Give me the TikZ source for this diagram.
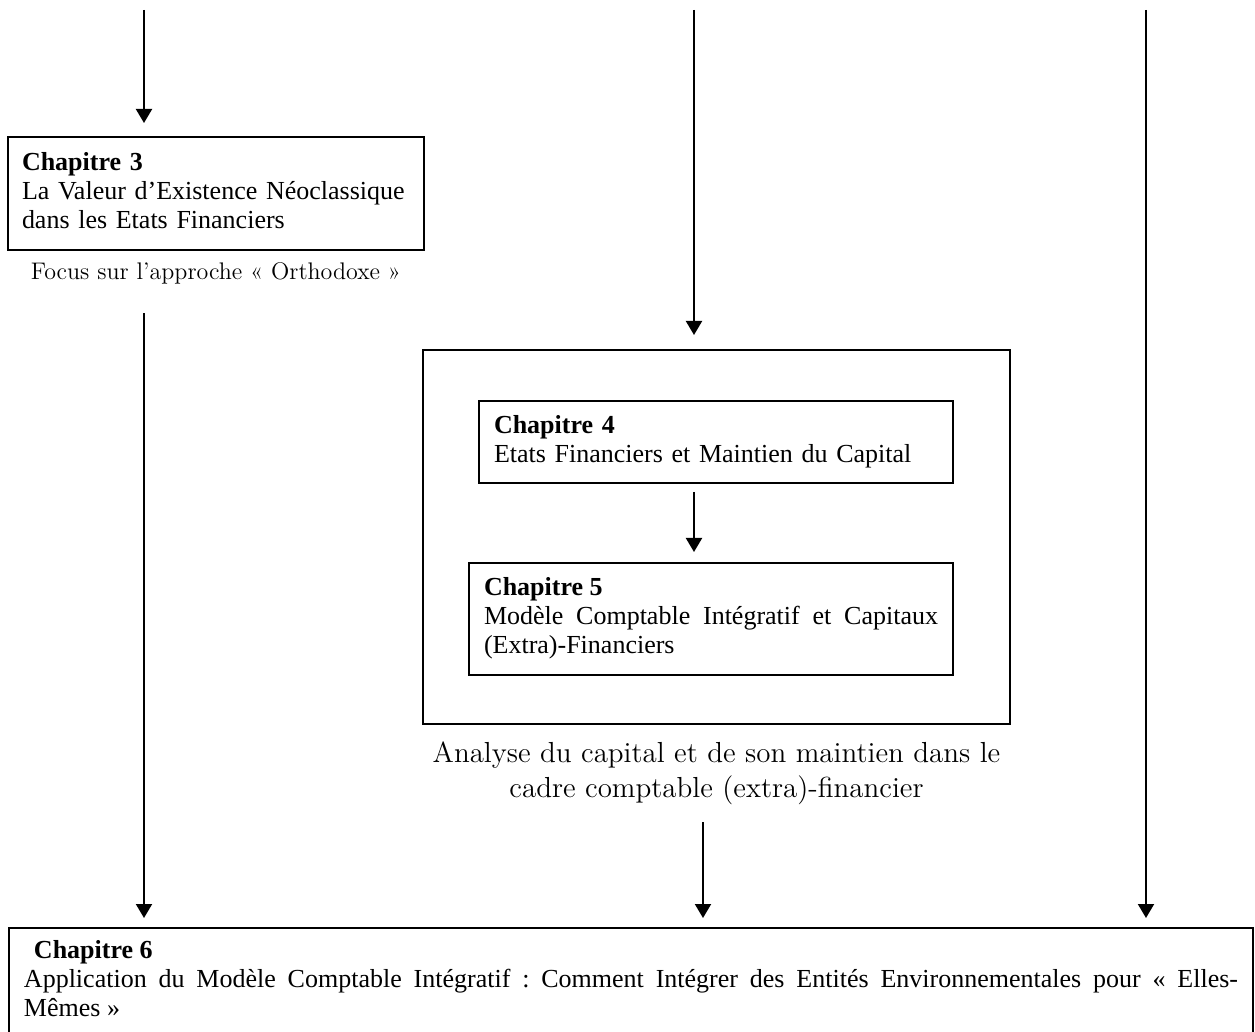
\documentclass[tikz,border=0pt]{standalone}
\usepackage{fontspec}
\newfontfamily\tnr{Liberation Serif}
\usetikzlibrary{arrows.meta,positioning}
\frenchspacing

\begin{document}
\begin{tikzpicture}[x=0.5pt,y=-0.5pt,every node/.style={outer sep=0pt},
		chap/.style={draw,line width=1.3pt,anchor=north west,align=justify,
			inner xsep=7.5pt,inner ysep=0pt,font=\tnr\fontsize{13}{14.5}\selectfont,
			execute at begin node=\strut,execute at end node=\strut},
		frame/.style={draw,line width=1.3pt,anchor=north west},
		note/.style={inner sep=0pt,align=center},
		arr/.style={line width=1pt,-{Triangle[width=8pt,length=7pt]}}]
		
		\useasboundingbox (0,0) rectangle (1255,1032);
		
		\node[chap,text width=194pt,minimum height=56.5pt,inner xsep=7pt,align=left] (c3) at (8,137)
		{\textbf{Chapitre 3}\\La Valeur d’Existence Néoclassique\\dans les Etats Financiers};
		\node[note,font=\fontsize{12}{14}\selectfont,below=6.5pt of c3] (focus) {Focus sur l’approche « Orthodoxe »};
		
		\node[frame,minimum width=293.5pt,minimum height=187pt] (big) at (423,350) {};
		\node[chap,text width=222pt,minimum height=41pt,align=left] (c4) at (479,401)
		{\textbf{Chapitre 4}\\Etats Financiers et Maintien du Capital};
		\node[chap,text width=227pt,minimum height=56pt] (c5) at (469,563)
		{\textbf{Chapitre 5}\\Modèle Comptable Intégratif et Capitaux\linebreak (Extra)-Financiers};
		\node[note,font=\fontsize{14.5}{17.5}\selectfont,below=9pt of big] (ana)
		{Analyse du capital et de son maintien dans le\\cadre comptable (extra)-financier};
		
		% box runs off the bottom of the page
		\node[chap,text width=607pt,inner ysep=4.85pt] (c6) at (9,928)
		{\hspace*{5pt}\textbf{Chapitre 6}\\Application du Modèle Comptable Intégratif : Comment Intégrer des Entités Environnementales pour «~Elles-\linebreak Mêmes~»\rule[-20pt]{0pt}{1pt}};
		
		\coordinate (s1) at (144,10);
		\coordinate (s2) at (694,10);
		\coordinate (s3) at (1146,10);
		\coordinate (s4) at ([xshift=-6.75pt]ana.south);
		
		\draw[arr,shorten >=7pt] (s1) -- (s1 |- c3.north);
		\draw[arr,shorten <=14.3pt,shorten >=5pt] (s1 |- focus.south) -- (s1 |- c6.north);
		
		\draw[arr,shorten >=7.5pt] (s2) -- (s2 |- big.north);
		\draw[arr,shorten <=4.5pt,shorten >=5.5pt] (s2 |- c4.south) -- (s2 |- c5.north);
		\draw[arr,shorten <=8.7pt,shorten >=5pt] (s4) -- (s4 |- c6.north);
		
		\draw[arr,shorten >=5pt] (s3) -- (s3 |- c6.north);
		
	\end{tikzpicture}
\end{document}
